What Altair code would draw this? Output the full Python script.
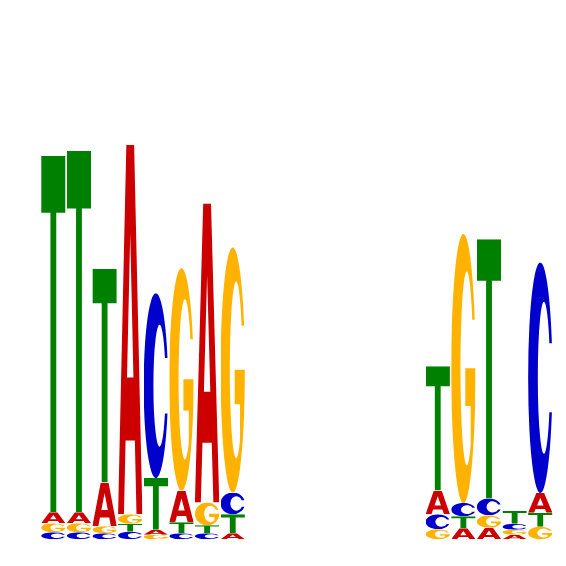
import base64
import altair as alt
import pandas as pd

# positions of the motif columns
positions = [1, 2, 3, 4, 5, 6, 7, 8, 16, 17, 18, 19, 20]
# letter heights (bits)
A = [0.044, 0.044, 0.176, 1.488, 0.020, 0.128, 1.204, 0.024, 0.096, 0.044, 0.046, 0.018, 0.080]
C = [0.028, 0.028, 0.024, 0.030, 0.744, 0.024, 0.024, 0.088, 0.060, 0.054, 0.068, 0.024, 0.928]
G = [0.036, 0.036, 0.028, 0.038, 0.018, 0.896, 0.092, 0.988, 0.040, 1.084, 0.050, 0.020, 0.050]
T = [1.436, 1.456, 0.860, 0.032, 0.208, 0.044, 0.032, 0.076, 0.500, 0.048, 1.044, 0.052, 0.056]

letter_colors = {"A": "#CC0000", "C": "#0000CC", "G": "#FFB300", "T": "#008000"}

# glyph outlines in a 100x100 box (stretched to the letter's cell)
glyphs = {
    "A": "M0 100 L34 0 H66 L100 100 H75.8 L69 80 H31 L24.2 100 Z M50 24 L63.2 63 H36.8 Z",
    "C": "M97.7 35 A50 50 0 1 0 97.7 65 L87.3 65 A25 33 0 1 1 87.3 35 Z",
    "G": "M96.6 32 A50 50 0 1 0 100 50 L58 50 L58 64 L80 64 L80 78.4 A26 36 0 1 1 86.5 32 Z",
    "T": "M0 0 H100 V16 H62 V100 H38 V16 H0 Z",
}


def glyph_url(letter):
    svg = (
        '<svg xmlns="http://www.w3.org/2000/svg" width="100" height="100" '
        'viewBox="0 0 100 100" preserveAspectRatio="none">'
        f'<path d="{glyphs[letter]}" fill="{letter_colors[letter]}" fill-rule="evenodd"/></svg>'
    )
    return "data:image/svg+xml;base64," + base64.b64encode(svg.encode()).decode()


rows = []
for letter, heights in (("A", A), ("C", C), ("G", G), ("T", T)):
    for p, h in zip(positions, heights):
        rows.append({"pos": p, "letter": letter, "height": h, "url": glyph_url(letter)})
df = pd.DataFrame(rows)

chart = (
    alt.Chart(df)
    .transform_window(
        cum="sum(height)",
        groupby=["pos"],
        sort=[alt.SortField("height", order="ascending")],
        frame=[None, 0],
    )
    .transform_calculate(
        y0="datum.cum - datum.height",
        xl="datum.pos - 0.475",
        xr="datum.pos + 0.475",
    )
    .mark_image(aspect=False)
    .encode(
        x=alt.X("xl:Q", scale=alt.Scale(domain=[0.5, 20.5], nice=False, zero=False), axis=None),
        x2="xr:Q",
        y=alt.Y("y0:Q", scale=alt.Scale(domain=[0, 2], nice=False), axis=None),
        y2="cum:Q",
        url="url:N",
    )
    .properties(width=520, height=504, padding={"left": 33, "top": 31, "right": 5, "bottom": 5})
    .configure_view(strokeWidth=0)
)

chart.save("out.html", embed_options={"renderer": "svg", "actions": False})
